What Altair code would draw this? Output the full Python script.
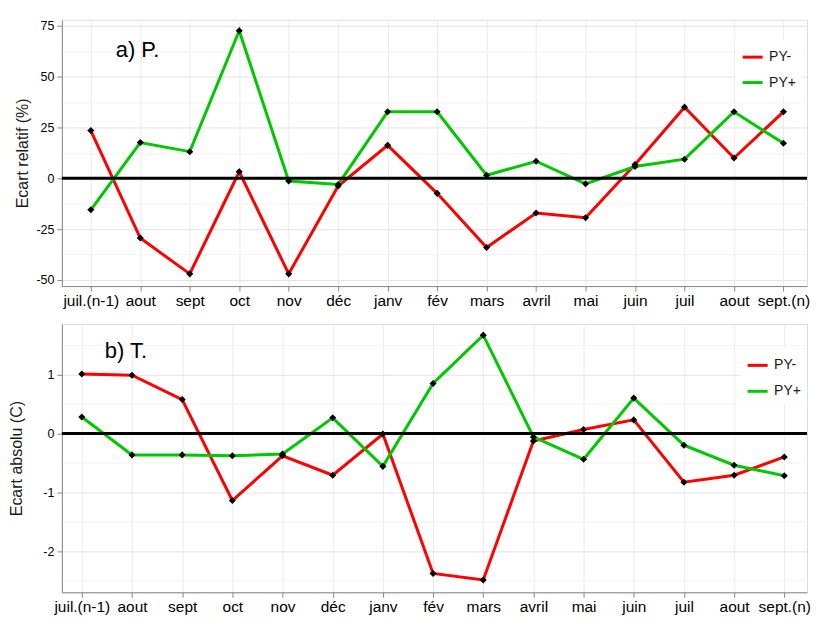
import altair as alt
import pandas as pd
import json

months = ["juil.(n-1)", "aout", "sept", "oct", "nov", "déc", "janv", "fév",
          "mars", "avril", "mai", "juin", "juil", "aout", "sept.(n)"]
series_names = ["PY-", "PY+"]
series_colors = ["#FF0000", "#00C800"]

p_minus = [23.5, -29.4, -47.0, 3.2, -47.0, -3.8, 16.2, -7.4, -34.0, -17.1, -19.4, 6.8, 35.0, 10.0, 32.7]
p_plus = [-15.5, 17.6, 13.1, 72.6, -1.3, -3.0, 32.7, 32.7, 1.5, 8.4, -2.7, 5.8, 9.4, 32.7, 17.2]

t_minus = [1.01, 0.99, 0.575, -1.14, -0.38, -0.71, -0.01, -2.38, -2.49, -0.13, 0.066, 0.23, -0.83, -0.71, -0.40]
t_plus = [0.28, -0.365, -0.365, -0.38, -0.35, 0.265, -0.56, 0.85, 1.67, -0.06, -0.44, 0.60, -0.20, -0.54, -0.72]

p_ticks = [-50, -37.5, -25, -12.5, 0, 12.5, 25, 37.5, 50, 62.5, 75]
p_major_step = 25
t_ticks = [-2.5, -2, -1.5, -1, -0.5, 0, 0.5, 1, 1.5]
t_major_step = 1

FONT = "Liberation Sans"
labels_expr = json.dumps(months, ensure_ascii=False) + "[datum.value]"


def panel(minus, plus, ticks, step, ydomain, xdomain, ytitle, title, w, h,
          title_dx, title_dy, leg_x, leg_y, leg_rowpad, title_pad):
    rows = []
    for name, vals in zip(series_names, [minus, plus]):
        for i, v in enumerate(vals):
            rows.append({"idx": i, "value": v, "series": name})
    df = pd.DataFrame(rows)
    is_major = f"abs(datum.value % {step}) < 0.001"
    x = alt.X("idx:Q", scale=alt.Scale(domain=xdomain, nice=False, zero=False),
              axis=alt.Axis(values=list(range(len(months))), labelExpr=labels_expr,
                            tickCount=100,
                            title=None, labelFontSize=15.5, labelPadding=2,
                            gridColor="#EBEBEB", labelFlush=False, labelOverlap=False))
    y = alt.Y("value:Q", scale=alt.Scale(domain=ydomain, nice=False, zero=False),
              axis=alt.Axis(values=ticks, tickCount=100,
                            labelExpr=f"{is_major} ? '' + datum.value : ''",
                            labelOverlap=False,
                            title=ytitle, titleFontSize=16, titleFontWeight="normal",
                            titleColor="#1A1A1A", titlePadding=title_pad,
                            labelFontSize=12.5, labelPadding=3,
                            gridColor={"condition": {"test": is_major, "value": "#E3E3E3"},
                                       "value": "#F3F3F3"},
                            tickOpacity={"condition": {"test": is_major, "value": 1},
                                         "value": 0}))
    base = alt.Chart(df)
    lines = base.mark_line(strokeWidth=3).encode(
        x=x, y=y,
        color=alt.Color("series:N",
                        scale=alt.Scale(domain=series_names, range=series_colors),
                        sort=series_names,
                        legend=alt.Legend(title=None, orient="none", legendX=leg_x, legendY=leg_y,
                                          symbolType="stroke", symbolSize=400,
                                          symbolStrokeWidth=3, labelFontSize=14,
                                          labelFont=FONT, labelColor="#1A1A1A",
                                          fillColor="white", padding=6, rowPadding=leg_rowpad,
                                          labelOffset=5)),
    )
    zero = alt.Chart(pd.DataFrame({"z": [0]})).mark_rule(color="black", strokeWidth=3).encode(
        y="z:Q")
    pts = base.mark_point(shape="diamond", filled=True, color="black", size=50, opacity=1).encode(
        x="idx:Q", y="value:Q")
    return alt.layer(lines, zero, pts).properties(
        width=w, height=h,
        title=alt.TitleParams(title, anchor="start", frame="group", offset=0,
                              dx=title_dx, dy=title_dy, fontSize=22, font=FONT,
                              fontWeight="normal", color="black", baseline="alphabetic"))


pa = panel(p_minus, p_plus, p_ticks, p_major_step, [-53, 78], [-0.585, 14.476],
           "Ecart relatif (%)", "a) P.", 747, 267, 54, 59, 675, 20, 6.5, 5)
pb = panel(t_minus, t_plus, t_ticks, t_major_step, [-2.70, 1.86], [-0.398, 14.453],
           "Ecart absolu (C)", "b) T.", 747, 269, 43, 56, 680, 24, 7, 18)

chart = alt.vconcat(pa, pb, spacing=14).resolve_scale(
    color="independent", x="independent", y="independent"
).resolve_legend(color="independent").properties(
    padding={"left": 0, "top": 10, "right": 0, "bottom": 0}
).configure_view(stroke="#8C8C8C", strokeWidth=1).configure_axis(
    domain=False, tickColor="#333333", tickSize=5, labelColor="#333333",
    labelFont=FONT, titleFont=FONT
).configure(background="white")

chart.save("out.html", embed_options={"renderer": "svg", "actions": False})
